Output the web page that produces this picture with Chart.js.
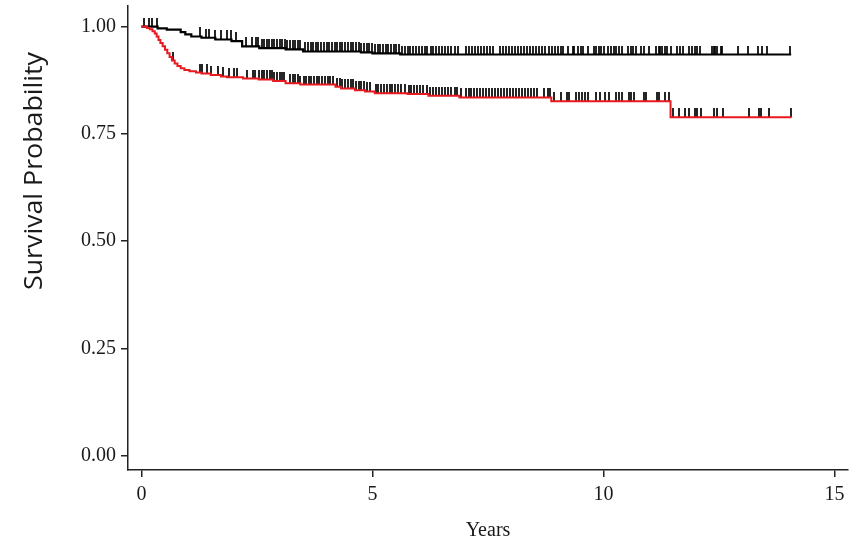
<!DOCTYPE html>
<html lang="en">
<head>
<meta charset="UTF-8">
<title>Survival</title>
<script src="https://cdn.jsdelivr.net/npm/chart.js"></script>
<style>
  html, body { margin: 0; padding: 0; background: #fff; }
  #wrap { width: 854px; height: 550px; position: relative; }
</style>
</head>
<body>
<div id="wrap"><canvas id="km"></canvas></div>
<script>
// step points of the two curves (years, survival)
const blackTimes = [0, 0.35, 0.55, 0.85, 0.95, 1.08, 1.3, 1.6, 1.95, 2.18, 2.55, 3.12, 3.5, 4.75, 5.0, 5.6, 14.06];
const blackSurv  = [1, 0.996, 0.993, 0.987, 0.982, 0.977, 0.974, 0.970, 0.966, 0.954, 0.950, 0.947, 0.942, 0.940, 0.9375, 0.935, 0.935];

const redTimes = [0, 0.12, 0.18, 0.24, 0.29, 0.33, 0.37, 0.41, 0.46, 0.51, 0.56, 0.61, 0.66, 0.72, 0.78, 0.85, 0.93, 1.04, 1.18, 1.30, 1.5, 1.72, 1.85, 2.2, 2.54, 2.85, 3.12, 3.44, 4.2, 4.32, 4.62, 4.84, 5.05, 5.76, 6.21, 6.88, 8.87, 11.45, 14.07];
const redSurv  = [1, 0.997, 0.994, 0.989, 0.984, 0.977, 0.969, 0.962, 0.954, 0.946, 0.938, 0.929, 0.921, 0.914, 0.908, 0.903, 0.899, 0.896, 0.893, 0.891, 0.887, 0.884, 0.882, 0.879, 0.877, 0.873, 0.868, 0.865, 0.860, 0.856, 0.852, 0.849, 0.845, 0.843, 0.839, 0.835, 0.826, 0.789, 0.789];

// censoring times
const blackCensor = [0.05, 0.16, 0.22, 0.33, 1.27, 1.40, 1.47, 1.60, 1.72, 1.86, 1.94, 2.04,
  2.26, 2.39, 2.47, 2.52, 2.60, 2.66, 2.71, 2.77, 2.82, 2.88, 2.93, 2.99, 3.05, 3.10, 3.16, 3.22, 3.28, 3.33, 3.39, 3.44,
  3.55, 3.61, 3.66, 3.72, 3.78, 3.83, 3.89, 3.95, 4.01, 4.06, 4.12, 4.18, 4.24, 4.30, 4.35, 4.41, 4.47, 4.53, 4.58, 4.64,
  4.70, 4.76, 4.82, 4.88, 4.93, 4.99, 5.05, 5.11, 5.17, 5.23, 5.29, 5.34, 5.40, 5.46, 5.52, 5.58, 5.64, 5.70, 5.76, 5.82,
  5.88, 5.94, 6.00, 6.07, 6.13, 6.19, 6.26, 6.32, 6.38, 6.45, 6.51, 6.58, 6.64, 6.71, 6.78, 6.85, 7.02, 7.08, 7.15, 7.21,
  7.28, 7.34, 7.41, 7.47, 7.54, 7.60, 7.76, 7.82, 7.89, 7.95, 8.02, 8.08, 8.15, 8.21, 8.28, 8.34, 8.41, 8.47, 8.54, 8.60,
  8.67, 8.74, 8.81, 8.88, 8.95, 9.02, 9.09, 9.12, 9.23, 9.34, 9.37, 9.45, 9.52, 9.55, 9.66, 9.80, 9.84, 9.91, 9.95, 10.02,
  10.09, 10.16, 10.23, 10.27, 10.34, 10.41, 10.52, 10.59, 10.63, 10.70, 10.80, 10.88, 10.98, 11.13, 11.20, 11.23, 11.27,
  11.34, 11.38, 11.45, 11.59, 11.66, 11.73, 11.84, 11.91, 11.98, 12.02, 12.09, 12.34, 12.38, 12.41, 12.45, 12.54, 12.56,
  12.90, 13.13, 13.34, 13.42, 13.54, 14.04];
const redCensor = [0.68, 1.26, 1.31, 1.41, 1.51, 1.65, 1.76, 1.90, 2.01, 2.06, 2.29, 2.42, 2.45, 2.54,
  2.61, 2.65, 2.72, 2.78, 2.83, 2.88, 2.94, 2.99, 3.04, 3.09, 3.22, 3.27, 3.33, 3.38, 3.44, 3.51, 3.56, 3.62, 3.68, 3.73,
  3.79, 3.85, 3.90, 3.97, 4.03, 4.08, 4.15, 4.24, 4.29, 4.35, 4.41, 4.46, 4.53, 4.58, 4.64, 4.70, 4.76, 4.81, 4.88, 4.94,
  5.08, 5.13, 5.19, 5.25, 5.31, 5.37, 5.43, 5.49, 5.55, 5.62, 5.70, 5.78, 5.84, 5.90, 5.96, 6.03, 6.10, 6.17, 6.25, 6.31,
  6.37, 6.44, 6.51, 6.57, 6.64, 6.71, 6.78, 6.84, 6.92, 7.02, 7.08, 7.14, 7.20, 7.27, 7.33, 7.40, 7.46, 7.52, 7.59, 7.65,
  7.72, 7.78, 7.85, 7.91, 7.97, 8.04, 8.10, 8.17, 8.23, 8.30, 8.36, 8.43, 8.50, 8.56, 8.72, 8.80, 8.85,
  8.93, 9.07, 9.20, 9.25, 9.40, 9.47, 9.54, 9.59, 9.66, 9.84, 9.93, 10.04, 10.12, 10.27, 10.33, 10.40, 10.55, 10.59,
  10.66, 10.88, 10.91, 11.16, 11.21, 11.33, 11.41, 11.50, 11.63, 11.76, 11.86, 11.97, 12.02, 12.11, 12.38, 12.45,
  12.59, 13.15, 13.36, 13.41, 13.57, 14.06];

const xTicks = [0, 5, 10, 15];
const yTicks = [0, 0.25, 0.5, 0.75, 1];

const xLabel = 'Years';
const yLabel = 'Survival Probability';

// survival value at time t from the step function
function survAt(times, surv, t) {
  let s = surv[0];
  for (let i = 0; i < times.length; i++) {
    if (times[i] <= t) s = surv[i];
  }
  return s;
}

function toPoints(times, surv) {
  return times.map((t, i) => ({ x: t, y: surv[i] }));
}

function censorPoints(times, surv, cens) {
  return cens.map(t => ({ x: t, y: survAt(times, surv, t) }));
}

// censor mark: vertical bar sitting on top of the curve
const mark = document.createElement('canvas');
mark.width = 2;
mark.height = 18;
const mctx = mark.getContext('2d');
mctx.fillStyle = 'rgba(0,0,0,0.85)';
mctx.fillRect(0, 0, 2, 9);

const yTitlePlugin = {
  id: 'yTitle',
  afterDraw(chart) {
    const c = chart.ctx;
    c.save();
    c.translate(42, 171);
    c.rotate(-Math.PI / 2);
    c.scale(1.07, 1);
    c.font = '25px "Open Sans"';
    c.fillStyle = '#1a1a1a';
    c.textAlign = 'center';
    c.textBaseline = 'alphabetic';
    c.fillText(yLabel, 0, 0);
    c.restore();
  }
};

const serif = 'Liberation Serif';

new Chart(document.getElementById('km'), {
  type: 'line',
  data: {
    datasets: [
      {
        data: toPoints(redTimes, redSurv),
        borderColor: '#e8191f',
        borderWidth: 2,
        stepped: 'before',
        pointRadius: 0,
        fill: false
      },
      {
        data: toPoints(blackTimes, blackSurv),
        borderColor: '#000',
        borderWidth: 2.2,
        stepped: 'before',
        pointRadius: 0,
        fill: false
      },
      {
        data: censorPoints(redTimes, redSurv, redCensor),
        showLine: false,
        pointStyle: mark,
        pointRadius: 5
      },
      {
        data: censorPoints(blackTimes, blackSurv, blackCensor),
        showLine: false,
        pointStyle: mark,
        pointRadius: 5
      }
    ]
  },
  options: {
    responsive: true,
    maintainAspectRatio: false,
    animation: false,
    layout: { padding: { top: 3, right: 0, left: 0, bottom: 0 } },
    plugins: {
      legend: { display: false },
      tooltip: { enabled: false }
    },
    scales: {
      x: {
        type: 'linear',
        min: -0.29,
        max: 15.29,
        afterBuildTicks: s => { s.ticks = xTicks.map(v => ({ value: v })); },
        afterFit: s => { s.height = 80; s.paddingLeft = 0; s.paddingRight = 0; },
        border: { display: true, color: '#222', width: 1.5 },
        grid: { drawOnChartArea: false, drawTicks: true, tickLength: 7, color: '#222', lineWidth: 1.5 },
        ticks: { color: '#1a1a1a', font: { family: serif, size: 20 }, padding: 6, maxRotation: 0 },
        title: { display: true, text: xLabel, color: '#1a1a1a', font: { family: serif, size: 20 }, padding: { top: 0, bottom: 7 } }
      },
      y: {
        type: 'linear',
        min: -0.033,
        max: 1.048,
        afterBuildTicks: s => { s.ticks = yTicks.map(v => ({ value: v })); },
        afterFit: s => { s.width = 128; s.paddingTop = 0; s.paddingBottom = 0; },
        border: { display: true, color: '#222', width: 1.5 },
        grid: { drawOnChartArea: false, drawTicks: true, tickLength: 7, color: '#222', lineWidth: 1.5 },
        ticks: { color: '#1a1a1a', font: { family: serif, size: 20 }, padding: 5, callback: v => v.toFixed(2) }
      }
    }
  },
  plugins: [yTitlePlugin]
});
</script>
</body>
</html>
